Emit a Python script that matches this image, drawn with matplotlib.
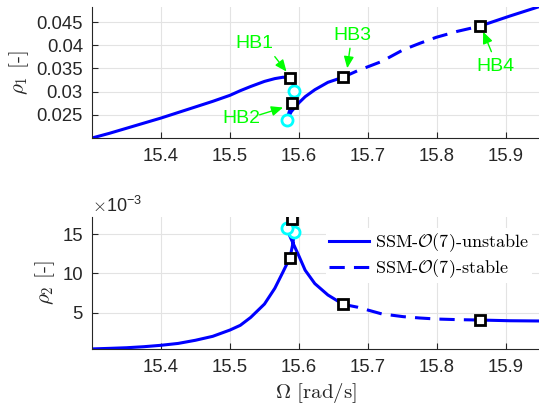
import matplotlib
matplotlib.use('Agg')
import matplotlib.pyplot as plt
from matplotlib.ticker import FormatStrFormatter

plt.rcParams['font.family'] = ['Liberation Sans', 'DejaVu Sans']
plt.rcParams['mathtext.fontset'] = 'cm'

# branch up to HB3 (unstable, solid), incl. the two folds
omega_a = [15.300, 15.325, 15.350, 15.375, 15.400, 15.425, 15.450, 15.475, 15.500,
           15.515, 15.530, 15.550, 15.565, 15.577, 15.587, 15.5915, 15.593, 15.5925,
           15.590, 15.586, 15.582, 15.589, 15.600, 15.609, 15.623, 15.642, 15.664]
rho1_a = [0.0200, 0.0210, 0.0221, 0.0232, 0.0243, 0.0255, 0.0267, 0.0279, 0.0292,
          0.0302, 0.0311, 0.0322, 0.0328, 0.0331, 0.0329, 0.0317, 0.0302, 0.0290,
          0.0275, 0.0257, 0.0238, 0.0257, 0.0276, 0.0289, 0.0304, 0.0320, 0.0331]
rho2_a = [0.40, 0.47, 0.55, 0.68, 0.86, 1.10, 1.50, 2.00, 2.80,
          3.40, 4.40, 6.10, 8.10, 10.2, 12.0, 13.9, 15.3, 16.2,
          16.9, 16.5, 15.7, 14.3, 12.2, 10.4, 8.70, 7.25, 6.07]  # x1e-3

# HB3 -> HB4 (stable, dashed)
omega_b = [15.664, 15.685, 15.720, 15.751, 15.775, 15.799, 15.830, 15.862]
rho1_b = [0.0331, 0.0345, 0.0365, 0.0390, 0.0404, 0.0417, 0.0430, 0.0441]
rho2_b = [6.07, 5.70, 4.85, 4.50, 4.33, 4.20, 4.12, 4.07]

# HB4 -> end (unstable, solid)
omega_c = [15.862, 15.906, 15.948]
rho1_c = [0.0441, 0.0463, 0.0483]
rho2_c = [4.07, 3.98, 3.95]

# Hopf bifurcations and saddle-node points
hb_omega = [15.587, 15.590, 15.664, 15.862]
hb_rho1 = [0.0329, 0.0275, 0.0331, 0.0441]
hb_rho2 = [12.0, 16.9, 6.07, 4.07]
sn_omega = [15.593, 15.582]
sn_rho1 = [0.0302, 0.0238]
sn_rho2 = [15.3, 15.7]

hb_labels = ['HB1', 'HB2', 'HB3', 'HB4']

xticks = [15.4, 15.5, 15.6, 15.7, 15.8, 15.9]
yticks1 = [0.025, 0.03, 0.035, 0.04, 0.045]
yticks2 = [5, 10, 15]

dark = '#262626'
green = '#00ff00'

fig = plt.figure(figsize=(5.39, 4.07), dpi=100)
ax1 = fig.add_axes([92 / 539, 1 - 138 / 407, 447 / 539, 131.3 / 407])
ax2 = fig.add_axes([92 / 539, 1 - 349 / 407, 447 / 539, 132 / 407])

line_kw = dict(color='b', lw=2.2)
for ax, ra, rb, rc, hb, sn in [(ax1, rho1_a, rho1_b, rho1_c, hb_rho1, sn_rho1),
                               (ax2, rho2_a, rho2_b, rho2_c, hb_rho2, sn_rho2)]:
    la, = ax.plot(omega_a, ra, '-', **line_kw)
    lb, = ax.plot(omega_b, rb, '--', dashes=(5, 3), **line_kw)
    ax.plot(omega_c, rc, '-', **line_kw)
    ax.plot(sn_omega, sn, 'o', ms=8, mfc='w', mec='cyan', mew=2, zorder=4)
    ax.plot(hb_omega, hb, 's', ms=7, mfc='w', mec='k', mew=2, zorder=5)

    for s in ['top', 'right']:
        ax.spines[s].set_visible(False)
    for s in ['left', 'bottom']:
        ax.spines[s].set_color(dark)
        ax.spines[s].set_linewidth(0.8)
    ax.tick_params(direction='in', length=4, width=0.8, colors=dark, labelsize=13.3)
    ax.tick_params(axis='x', pad=7)
    ax.tick_params(axis='y', pad=6.5)
    ax.grid(True, color='#e3e3e3', lw=0.8)
    ax.set_axisbelow(True)
    ax.set_xlim(15.3, 15.948)
    ax.set_xticks(xticks)
    ax.xaxis.set_major_formatter(FormatStrFormatter('%g'))

ax1.set_ylim(0.0200, 0.0483)
ax1.set_yticks(yticks1)
ax1.yaxis.set_major_formatter(FormatStrFormatter('%g'))
ax2.set_ylim(0.39, 17.16)
ax2.set_yticks(yticks2)

ax1.set_ylabel(r'$\rho_1$ [-]', fontfamily='cmr10', fontsize=15, color=dark)
ax2.set_ylabel(r'$\rho_2$ [-]', fontfamily='cmr10', fontsize=15, color=dark)
ax2.set_xlabel(r'$\Omega$ [rad/s]', fontfamily='cmr10', fontsize=15, color=dark, labelpad=4)

ax2.text(0.0, 1.01, r'$\times\mathdefault{10^{-3}}$', transform=ax2.transAxes,
         ha='left', va='bottom', fontsize=13, color=dark)

# HB annotations (text centre, arrow tail, arrow tip)
notes = [((15.536, 0.0404), (15.565, 0.03754), (15.582, 0.03431)),
         ((15.516, 0.0242), (15.543, 0.0250), (15.577, 0.02657)),
         ((15.678, 0.0420), (15.674, 0.03934), (15.670, 0.03504)),
         ((15.885, 0.0354), (15.879, 0.03861), (15.867, 0.04291))]
for lab, (txt, tail, tip) in zip(hb_labels, notes):
    ax1.annotate('', xy=tip, xytext=tail,
                 arrowprops=dict(arrowstyle='-|>,head_length=0.7,head_width=0.3',
                                 color=green, lw=1, shrinkA=0, shrinkB=0))
    ax1.text(txt[0], txt[1], lab, color=green, fontsize=14, ha='center', va='center')

leg = ax2.legend(handles=[la, lb],
                 labels=[r'SSM-$\mathcal{O}(7)$-unstable', r'SSM-$\mathcal{O}(7)$-stable'],
                 loc='upper left', bbox_to_anchor=(0.523, 0.917), borderaxespad=0,
                 frameon=True, facecolor='w', edgecolor='none', framealpha=1,
                 fancybox=False, prop={'family': 'cmr10', 'size': 13},
                 handlelength=2.2, handletextpad=0.3, labelspacing=0.15, borderpad=0.2)

fig.savefig('out.png', dpi=100)
